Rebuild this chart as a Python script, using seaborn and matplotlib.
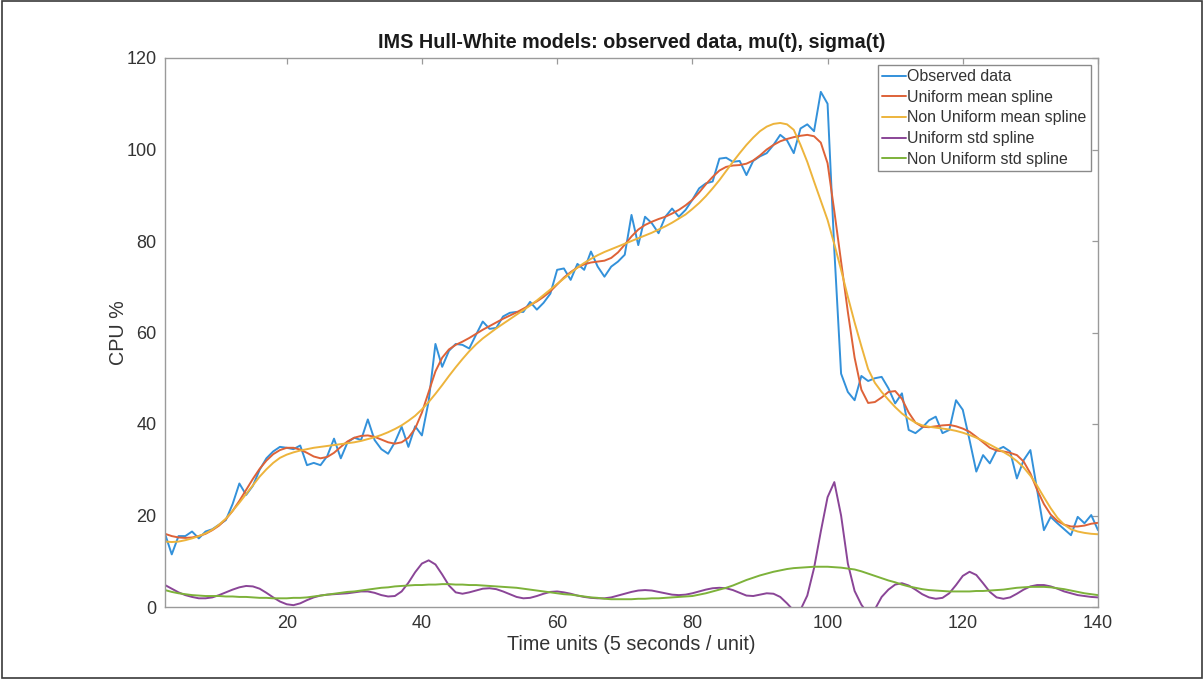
import numpy as np
import pandas as pd
import matplotlib
matplotlib.use("Agg")
import matplotlib.pyplot as plt
import seaborn as sns
from matplotlib.patches import Rectangle

# ---------------- data ----------------
time_units = list(range(2, 141))

observed = [16, 11.5, 15.5, 15.5, 16.5, 15, 16.5, 17, 18, 19,
            22.5, 27, 24.5, 26.5, 30, 32.5, 34, 35, 34.8, 34.5,
            35.3, 31, 31.5, 31, 33, 36.8, 32.5, 36, 37, 36.5,
            41, 36.5, 34.5, 33.5, 36, 39.4, 35, 39.5, 37.5, 45,
            57.5, 52.5, 56, 57.5, 57.3, 56.5, 59.5, 62.4, 60.8, 61,
            63.5, 64.3, 64.5, 64.5, 66.7, 65, 66.5, 68.5, 73.7, 74,
            71.5, 75, 73.7, 77.7, 74.4, 72.2, 74.4, 75.5, 77, 85.7,
            79.1, 85.3, 83.9, 81.7, 85.3, 87.1, 85.3, 86.8, 89, 91.5,
            92.6, 93, 98, 98.2, 97.3, 97.5, 94.4, 97.5, 98.5, 99.2,
            101, 103.2, 102, 99.2, 104.6, 105.5, 104, 112.6, 110, 78,
            51, 47, 45.2, 50.5, 49.4, 50, 50.3, 47.8, 44.5, 46.7,
            38.7, 38, 39.2, 40.8, 41.6, 38, 38.7, 45.2, 43.1, 36.5,
            29.6, 33.2, 31.4, 34.3, 35, 34, 28.1, 32.1, 34.3, 25.6,
            16.8, 19.7, 18.3, 17, 15.7, 19.7, 18.3, 20.1, 16.8]

uniform_mean = [16.0, 15.5, 15.2, 15.1, 15.2, 15.5, 16.0, 16.8, 17.8, 19.2,
                21.0, 23.2, 25.6, 28.0, 30.2, 32.0, 33.4, 34.3, 34.8, 34.8,
                34.4, 33.7, 32.9, 32.5, 32.8, 33.7, 35.0, 36.2, 37.0, 37.4,
                37.5, 37.2, 36.6, 36.0, 35.7, 36.0, 37.0, 39.0, 42.5, 47.0,
                51.5, 54.5, 56.3, 57.3, 58.0, 58.8, 59.7, 60.6, 61.4, 62.2,
                63.0, 63.7, 64.4, 65.2, 66.0, 66.8, 67.8, 69.0, 70.5, 72.0,
                73.2, 74.2, 74.9, 75.3, 75.5, 75.7, 76.3, 77.5, 79.2, 81.0,
                82.5, 83.5, 84.2, 84.8, 85.3, 86.0, 86.8, 87.8, 89.0, 90.6,
                92.4, 94.0, 95.4, 96.2, 96.5, 96.6, 96.9, 97.6, 98.7, 100.0,
                101.0, 101.8, 102.3, 102.7, 103.0, 103.2, 102.9, 101.5, 97.0, 86.5,
                75.5, 64.5, 54.5, 47.5, 44.6, 44.8, 45.8, 47.0, 47.2, 45.5,
                42.5, 40.3, 39.4, 39.3, 39.5, 39.7, 39.8, 39.5, 39.0, 38.3,
                37.2, 36.0, 34.8, 34.2, 34.0, 33.7, 33.2, 31.8, 29.2, 25.6,
                22.5, 20.2, 18.8, 18.0, 17.6, 17.6, 17.8, 18.2, 18.4]

nonuniform_mean = [14.3, 14.2, 14.3, 14.6, 15.0, 15.5, 16.1, 16.9, 18.0, 19.3,
                   21.0, 22.8, 24.7, 26.6, 28.5, 30.1, 31.5, 32.6, 33.3, 33.8,
                   34.2, 34.5, 34.8, 35.0, 35.2, 35.4, 35.6, 35.8, 36.0, 36.3,
                   36.7, 37.1, 37.6, 38.2, 38.9, 39.7, 40.7, 41.8, 43.2, 44.8,
                   46.6, 48.5, 50.5, 52.4, 54.2, 55.9, 57.4, 58.7, 59.8, 60.9,
                   61.9, 62.9, 63.9, 64.9, 65.9, 67.0, 68.2, 69.4, 70.6, 71.8,
                   73.0, 74.2, 75.2, 76.1, 76.9, 77.6, 78.2, 78.8, 79.4, 80.0,
                   80.6, 81.2, 81.8, 82.5, 83.2, 84.0, 84.9, 85.8, 87.0, 88.3,
                   89.8, 91.5, 93.3, 95.3, 97.3, 99.2, 101.0, 102.6, 104.0, 105.0,
                   105.6, 105.8, 105.5, 104.3, 101.0, 97.3, 93.0, 88.8, 84.6, 79.3,
                   73.7, 67.8, 62.2, 57.0, 52.0, 49.0, 47.0, 45.3, 43.7, 42.3,
                   41.2, 40.3, 39.7, 39.4, 39.2, 39.0, 38.8, 38.5, 38.1, 37.6,
                   37.0, 36.3, 35.5, 34.7, 33.9, 33.0, 31.9, 30.5, 28.7, 26.5,
                   24.0, 21.6, 19.5, 18.0, 17.0, 16.5, 16.2, 16.0, 15.9]

uniform_std = [4.8, 4.0, 3.2, 2.6, 2.2, 1.9, 1.9, 2.1, 2.6, 3.2,
               3.8, 4.3, 4.6, 4.5, 4.0, 3.1, 2.1, 1.2, 0.6, 0.4,
               0.8, 1.5, 2.1, 2.5, 2.7, 2.8, 2.9, 3.0, 3.2, 3.4,
               3.4, 3.1, 2.6, 2.3, 2.4, 3.4, 5.3, 7.6, 9.5, 10.2,
               9.3, 7.1, 4.7, 3.2, 2.9, 3.2, 3.6, 4.0, 4.1, 3.9,
               3.4, 2.8, 2.2, 1.9, 2.0, 2.4, 2.9, 3.3, 3.4, 3.2,
               2.9, 2.5, 2.2, 2.0, 1.9, 1.9, 2.1, 2.5, 2.9, 3.3,
               3.6, 3.7, 3.6, 3.3, 3.0, 2.7, 2.6, 2.7, 3.0, 3.4,
               3.8, 4.1, 4.2, 4.1, 3.7, 3.1, 2.5, 2.4, 2.7, 3.0,
               2.9, 2.2, 0.8, -0.8, -0.6, 2.5, 8.5, 16.5, 24.0, 27.3,
               20.0, 9.5, 3.5, 0.5, -1.5, -0.5, 2.2, 3.8, 4.9, 5.2,
               4.7, 3.8, 2.8, 2.1, 1.8, 2.0, 3.0, 4.8, 6.8, 7.7,
               7.0, 5.2, 3.3, 2.1, 1.8, 2.1, 2.9, 3.8, 4.5, 4.8,
               4.8, 4.5, 4.0, 3.4, 3.0, 2.6, 2.4, 2.2, 2.1]

nonuniform_std = [3.7, 3.3, 3.0, 2.8, 2.6, 2.5, 2.4, 2.4, 2.4, 2.3,
                  2.3, 2.2, 2.2, 2.1, 2.0, 2.0, 1.9, 1.9, 1.9, 2.0,
                  2.0, 2.1, 2.3, 2.5, 2.7, 2.9, 3.1, 3.3, 3.4, 3.6,
                  3.8, 4.0, 4.2, 4.3, 4.5, 4.6, 4.7, 4.8, 4.8, 4.9,
                  4.9, 5.0, 5.0, 4.9, 4.9, 4.8, 4.8, 4.7, 4.6, 4.5,
                  4.4, 4.3, 4.2, 4.0, 3.8, 3.6, 3.4, 3.2, 3.0, 2.8,
                  2.7, 2.5, 2.3, 2.1, 2.0, 1.8, 1.7, 1.7, 1.7, 1.7,
                  1.8, 1.8, 1.9, 1.9, 2.0, 2.1, 2.2, 2.3, 2.4, 2.7,
                  3.0, 3.4, 3.8, 4.2, 4.7, 5.3, 5.9, 6.4, 6.9, 7.3,
                  7.7, 8.0, 8.3, 8.5, 8.6, 8.7, 8.8, 8.8, 8.8, 8.7,
                  8.6, 8.4, 8.2, 7.8, 7.3, 6.8, 6.3, 5.8, 5.4, 4.9,
                  4.5, 4.2, 3.9, 3.7, 3.6, 3.5, 3.4, 3.4, 3.4, 3.4,
                  3.5, 3.5, 3.6, 3.7, 3.8, 4.0, 4.2, 4.3, 4.4, 4.4,
                  4.4, 4.3, 4.1, 3.9, 3.6, 3.3, 3.0, 2.8, 2.6]

series_labels = ["Observed data", "Uniform mean spline", "Non Uniform mean spline",
                 "Uniform std spline", "Non Uniform std spline"]
x_ticks = [20, 40, 60, 80, 100, 120, 140]
y_ticks = [0, 20, 40, 60, 80, 100, 120]

# ---------------- style ----------------
sns.set_style("white")
plt.rcParams["font.family"] = ["Liberation Sans", "DejaVu Sans"]

colors = ["#3391DA", "#DE6238", "#EDB43C", "#8A4597", "#7DB23A"]
series = [observed, uniform_mean, nonuniform_mean, uniform_std, nonuniform_std]

fig = plt.figure(figsize=(12.04, 6.79), dpi=100)
ax = fig.add_axes([165 / 1204, 72 / 679, 933 / 1204, 549 / 679])

for vals, lab, col in zip(series, series_labels, colors):
    sns.lineplot(x=time_units, y=vals, ax=ax, color=col, label=lab,
                 linewidth=1.4, sort=False, estimator=None)

ax.set_xlim(2, 140)
ax.set_ylim(0, 120)
ax.set_xticks(x_ticks)
ax.set_yticks(y_ticks)

spine_col = "#9a9a9a"
for s in ax.spines.values():
    s.set_visible(True)
    s.set_color(spine_col)
    s.set_linewidth(1.0)

ax.tick_params(axis="both", direction="in", length=4.5, width=0.9,
               colors=spine_col, labelcolor="#333333", labelsize=13,
               top=True, right=True, pad=6)

ax.set_title("IMS Hull-White models: observed data, mu(t), sigma(t)",
             fontsize=14.2, fontweight="bold", color="#1a1a1a", pad=7)
ax.set_xlabel("Time units (5 seconds / unit)", fontsize=14.2, color="#333333", labelpad=2)
ax.set_ylabel("CPU %", fontsize=14.2, color="#333333")
ax.yaxis.set_label_coords(-0.040, 0.5)

leg = ax.legend(loc="upper right", bbox_to_anchor=(0.992, 0.987), borderaxespad=0,
                fontsize=11.4, frameon=True, fancybox=False, framealpha=1,
                edgecolor="#8a8a8a", handlelength=1.5, handletextpad=0.1,
                labelspacing=0.36, borderpad=0.25)
leg.get_frame().set_linewidth(1.0)
for t in leg.get_texts():
    t.set_color("#333333")

fig.patches.append(Rectangle((0.002, 0.002), 0.996, 0.996, transform=fig.transFigure,
                             fill=False, edgecolor="#3a3a3a", linewidth=1.2))

fig.savefig("out.png", dpi=100, facecolor="white")
